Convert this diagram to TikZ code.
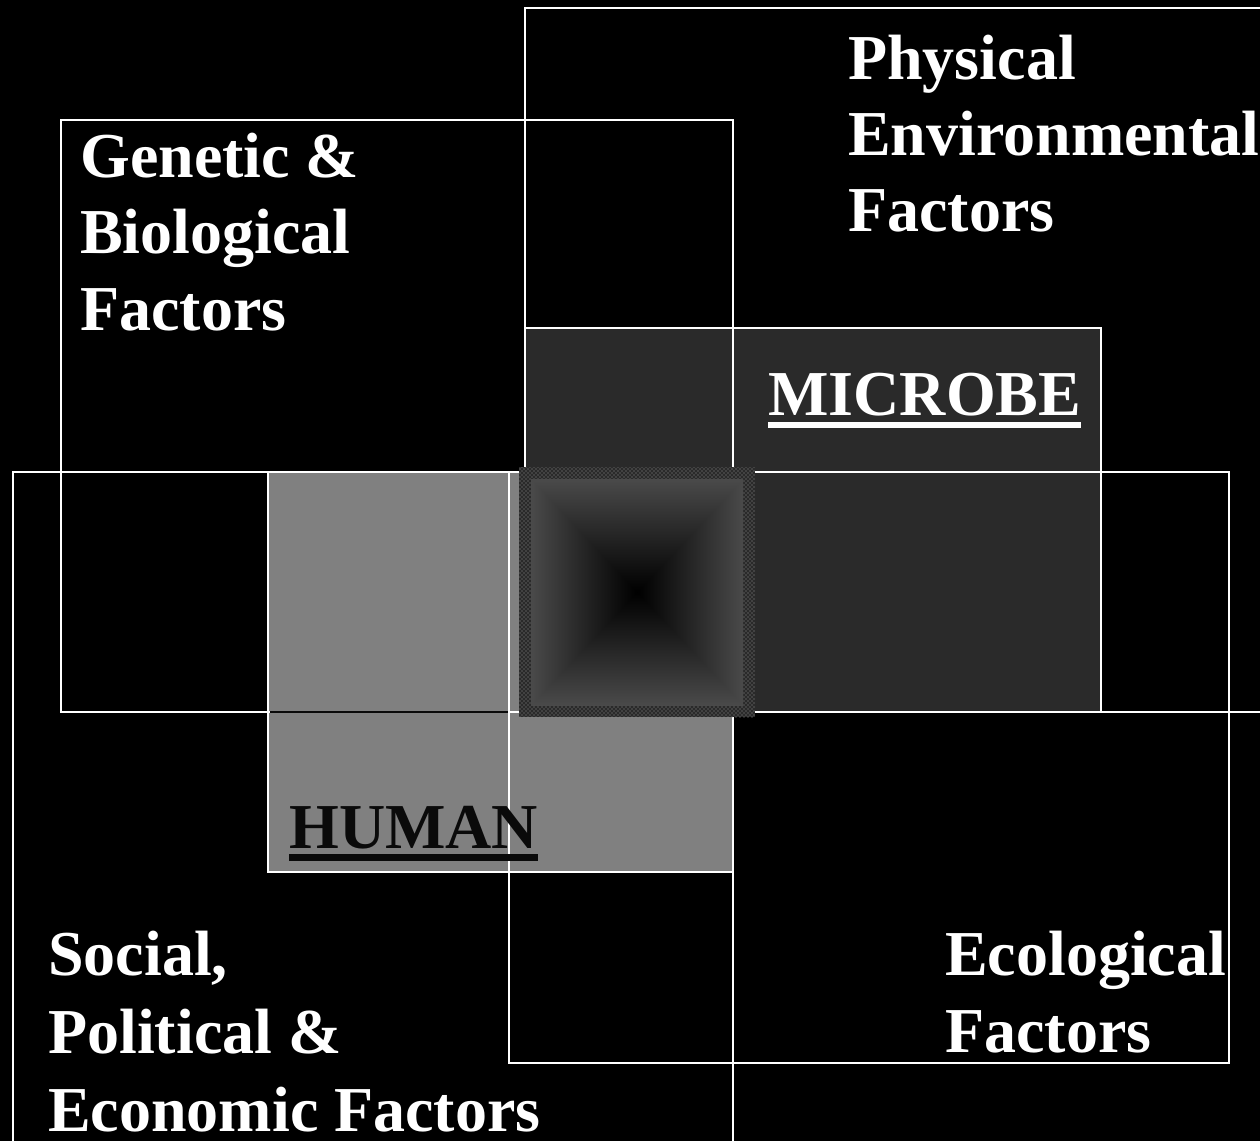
\documentclass[tikz,border=0pt]{standalone}
\usepackage{fontspec}
\setmainfont{Liberation Serif}
\usetikzlibrary{patterns}
\definecolor{microbegray}{HTML}{2A2A2A}
\definecolor{humangray}{HTML}{808080}
\definecolor{nearblack}{HTML}{0A0A0A}
\pgfdeclarefunctionalshading{pyramid}{\pgfpoint{0bp}{0bp}}{\pgfpoint{100bp}{100bp}}{}{
  50 sub abs 25 div exch 50 sub abs 25 div
  2 copy lt {exch} if pop
  1 2 copy gt {exch} if pop
  0.29 mul dup dup
}

\begin{document}
\begin{tikzpicture}[x=0.75pt,y=-0.75pt,
  lbl/.style={inner sep=0pt,anchor=base west,white,font=\fontsize{48}{57}\selectfont\bfseries},
  frame/.style={white,line width=1.5pt}]

\fill[black] (0,0) rectangle (1260,1141);
\useasboundingbox (0,0) rectangle (1260,1141);
\clip (0,0) rectangle (1260,1141);

\fill[microbegray] (525,328) rectangle (1101,712);
\fill[humangray] (268,472) rectangle (733,872);

\begin{scope}[frame]
\draw (525,8) rectangle (1280,712);
\draw (61,120) rectangle (733,712);
\draw (13,472) rectangle (733,1160);
\draw (509,472) rectangle (1229,1063);
\draw (525,328) rectangle (1101,712);
\draw (268,472) rectangle (733,872);
\end{scope}

\draw[nearblack,line width=1.5pt] (270,712) -- (508,712);

\fill[microbegray] (519,467) rectangle (755,717);
\fill[pattern=crosshatch dots,pattern color=gray!85] (519,467) rectangle (755,717);
\fill[shading=pyramid] (531,479) rectangle (743,705);

\foreach \t [count=\i] in {Physical,Environmental,Factors}
  \node[lbl] (phys\i) at (848,4+76*\i) {\t};
\foreach \t [count=\i] in {Genetic \&,Biological,Factors}
  \node[lbl] (gen\i) at (80,102+76*\i) {\t};
\foreach \t [count=\i] in {{Social,},Political \&,Economic Factors}
  \node[lbl] (soc\i) at (48,897+78*\i) {\t};
\foreach \t [count=\i] in {Ecological,Factors}
  \node[lbl] (eco\i) at (945,898+77*\i) {\t};

\node[lbl] (microbe) at (768,415) {MICROBE};
\fill[white] ([yshift=-5.25pt]microbe.base west) rectangle ([yshift=-9.75pt]microbe.base east);

\node[lbl,nearblack] (human) at (289,848) {HUMAN};
\fill[nearblack] ([yshift=-4.5pt]human.base west) rectangle ([yshift=-9.75pt]human.base east);
\end{tikzpicture}
\end{document}
